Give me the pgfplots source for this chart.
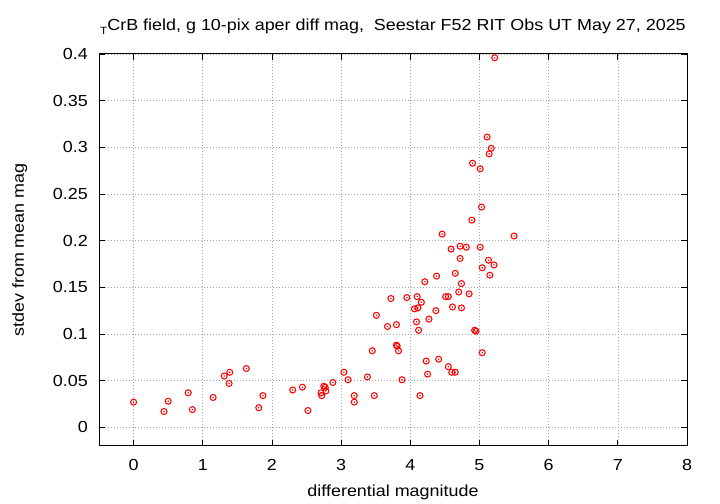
\documentclass[border=0pt]{standalone}
\usepackage{fontspec}
\setmainfont{Liberation Sans}[FakeStretch=1.12]
\usepackage{pgfplots}
\pgfplotsset{compat=1.18}
\usepackage{pgfplotstable}
\pgfplotstableread{
x y
0.00 0.027
0.44 0.017
0.50 0.028
0.79 0.037
0.85 0.019
1.15 0.032
1.31 0.055
1.39 0.059
1.38 0.047
1.63 0.063
1.81 0.021
1.87 0.034
2.30 0.040
2.44 0.043
2.52 0.018
2.71 0.037
2.72 0.034
2.75 0.044
2.77 0.043
2.78 0.039
2.88 0.048
3.04 0.059
3.10 0.051
3.19 0.034
3.19 0.027
3.38 0.054
3.48 0.034
3.45 0.082
3.51 0.120
3.67 0.108
3.72 0.138
3.80 0.110
3.80 0.088
3.81 0.087
3.83 0.082
3.88 0.051
3.95 0.139
4.06 0.127
4.09 0.113
4.10 0.140
4.11 0.128
4.12 0.104
4.14 0.034
4.16 0.134
4.21 0.156
4.23 0.071
4.25 0.057
4.27 0.116
4.37 0.125
4.38 0.162
4.41 0.073
4.46 0.207
4.51 0.140
4.55 0.140
4.55 0.065
4.59 0.191
4.60 0.059
4.61 0.129
4.65 0.059
4.65 0.165
4.70 0.145
4.72 0.181
4.72 0.194
4.74 0.154
4.74 0.128
4.81 0.193
4.85 0.143
4.89 0.222
4.90 0.283
4.93 0.104
4.95 0.103
5.01 0.193
5.01 0.277
5.03 0.236
5.04 0.171
5.04 0.080
5.11 0.311
5.14 0.293
5.13 0.179
5.15 0.163
5.17 0.299
5.21 0.174
5.22 0.396
5.50 0.205
}\datatable
\begin{document}
\fontsize{16bp}{19bp}\selectfont
\begin{tikzpicture}
\path[use as bounding box] (0,0) rectangle (720bp,504bp);
\begin{axis}[
  at={(99bp,58bp)}, anchor=south west,
  scale only axis, width=588bp, height=392bp,
  xmin=-0.5, xmax=8, ymin=-0.02, ymax=0.4,
  xtick={0,1,...,8},
  ytick={0,0.05,0.1,0.15,0.2,0.25,0.3,0.35,0.4},
  yticklabels={0,0.05,0.1,0.15,0.2,0.25,0.3,0.35,0.4},
  scaled y ticks=false,
  /pgf/number format/assume math mode=true,
  tick align=inside, xtick pos=both, ytick pos=both,
  major tick length=6bp,
  tick style={black, line width=0.8bp},
  axis line style={black, line width=1bp},
  grid=major,
  major grid style={gray!70, line width=0.6bp, dash pattern=on 1bp off 2bp},
  xticklabel style={anchor=base, inner sep=0pt, yshift=-24.7bp},
  yticklabel style={anchor=east, inner sep=0pt, xshift=-11bp},
  xlabel={differential magnitude},
  xlabel style={at={(axis description cs:0.5,-0.1293)}, anchor=base, inner sep=0pt},
  ylabel={stdev from mean mag},
  ylabel style={at={(axis description cs:-0.1276,0.5)}, anchor=base, inner sep=0pt},
  title={\raisebox{-4.5bp}{\fontsize{10.5bp}{10bp}\selectfont T}CrB field, g 10-pix aper diff mag,~ Seestar F52 RIT Obs UT May 27, 2025},
  title style={at={(axis description cs:0.5,1.0459)}, anchor=base, inner sep=0pt},
]
\addplot[only marks, mark=o, mark size=3bp, red, mark options={line width=1.05bp}] table[x=x,y=y] {\datatable};
\addplot[only marks, mark=*, mark size=0.5bp, red] table[x=x,y=y] {\datatable};
\end{axis}
\end{tikzpicture}
\end{document}
